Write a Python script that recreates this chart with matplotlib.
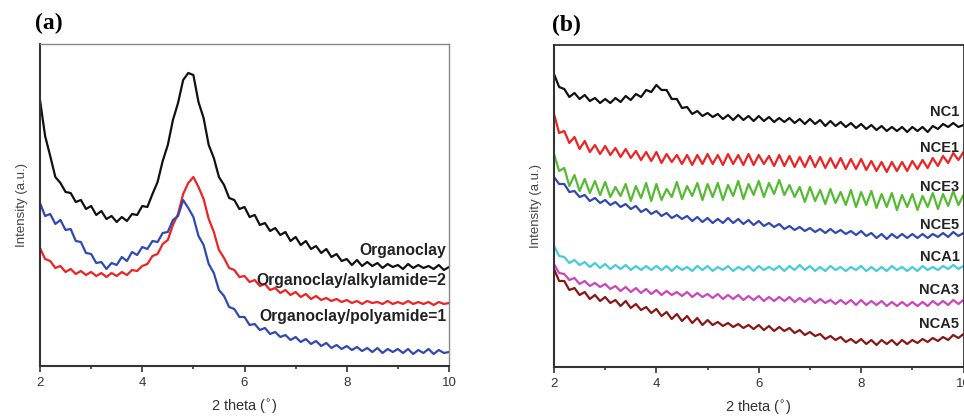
import numpy as np
import matplotlib
matplotlib.use("Agg")
import matplotlib.pyplot as plt

plt.rcParams['font.family'] = ['Liberation Sans', 'DejaVu Sans']

# 2 theta grid (deg), 0.1 step
two_theta = np.round(np.arange(2.0, 10.01, 0.1), 2)

# ---- panel (a) ----
organoclay = [266, 230, 210, 189, 183, 174, 173, 164, 166, 157,
              160, 151, 155, 147, 150, 144, 149, 145, 152, 151,
              160, 159, 172, 184, 205, 221, 246, 263, 286, 293,
              291, 264, 248, 221, 208, 189, 181, 168, 166, 157,
              159, 149, 151, 141, 143, 135, 138, 131, 134, 125,
              129, 121, 125, 117, 120, 113, 117, 109, 112, 105,
              107, 101, 106, 100, 104, 100, 103, 98, 102, 99,
              101, 97, 102, 98, 101, 98, 100, 97, 101, 96,
              99]
alkylamide = [118, 107, 105, 98, 100, 94, 97, 92, 95, 91,
              94, 90, 93, 89, 93, 90, 94, 91, 96, 95,
              100, 102, 110, 112, 122, 126, 141, 152, 172, 183,
              189, 179, 167, 147, 134, 116, 108, 98, 96, 89,
              90, 84, 86, 80, 82, 76, 78, 73, 76, 71,
              74, 69, 72, 67, 70, 66, 68, 65, 67, 64,
              66, 63, 65, 62, 65, 63, 64, 62, 65, 62,
              64, 62, 65, 62, 64, 62, 64, 61, 64, 62,
              63]
polyamide = [163, 150, 152, 142, 146, 136, 137, 125, 124, 113,
             112, 103, 104, 97, 103, 101, 109, 105, 114, 111,
             119, 117, 125, 124, 133, 134, 146, 150, 166, 158,
             149, 130, 121, 102, 93, 76, 70, 59, 57, 49,
             49, 41, 42, 36, 38, 32, 34, 29, 31, 26,
             29, 24, 27, 22, 25, 20, 23, 18, 21, 17,
             20, 16, 19, 15, 18, 14, 18, 13, 17, 14,
             17, 13, 17, 12, 16, 13, 17, 12, 16, 13,
             14]

# ---- panel (b) ----
nc1 = [293, 280, 278, 270, 274, 268, 272, 266, 269, 264,
       268, 264, 269, 265, 271, 267, 273, 270, 277, 275,
       282, 277, 277, 268, 268, 259, 260, 253, 256, 251,
       254, 250, 253, 248, 252, 247, 252, 247, 251, 246,
       251, 246, 250, 245, 249, 245, 249, 244, 248, 243,
       248, 243, 247, 241, 246, 241, 245, 240, 244, 239,
       243, 238, 242, 237, 241, 236, 240, 236, 240, 235,
       240, 236, 240, 235, 241, 238, 243, 240, 244, 240,
       242]
nce1 = [253, 234, 236, 224, 230, 218, 226, 215, 222, 213,
        221, 212, 219, 210, 218, 209, 216, 207, 215, 206,
        215, 204, 213, 205, 212, 203, 212, 202, 212, 203,
        213, 203, 212, 202, 213, 203, 212, 202, 213, 202,
        212, 203, 211, 201, 212, 201, 211, 200, 210, 200,
        211, 200, 210, 199, 209, 199, 209, 198, 208, 198,
        208, 197, 206, 196, 205, 195, 205, 196, 205, 196,
        206, 198, 207, 199, 209, 201, 211, 204, 214, 207,
        215]
nce3 = [213, 196, 199, 181, 192, 176, 188, 174, 186, 172,
        185, 170, 180, 171, 183, 166, 181, 169, 184, 166,
        183, 167, 178, 170, 185, 168, 181, 171, 184, 167,
        183, 170, 184, 167, 182, 171, 186, 168, 183, 172,
        186, 170, 184, 173, 187, 172, 182, 170, 180, 165,
        180, 166, 177, 163, 178, 164, 175, 162, 177, 160,
        175, 162, 176, 159, 173, 160, 174, 157, 172, 160,
        173, 157, 171, 160, 174, 158, 173, 161, 176, 162,
        172]
nce5 = [190, 183, 183, 175, 176, 170, 172, 166, 169, 164,
        167, 162, 165, 160, 163, 158, 161, 155, 158, 153,
        156, 151, 154, 149, 152, 148, 151, 146, 150, 145,
        149, 144, 148, 144, 149, 144, 148, 143, 147, 142,
        146, 141, 144, 140, 143, 138, 141, 137, 140, 136,
        139, 135, 138, 134, 138, 134, 137, 133, 136, 132,
        136, 131, 134, 129, 133, 128, 133, 129, 133, 129,
        133, 129, 133, 129, 133, 130, 134, 130, 135, 131,
        134]
nca1 = [121, 111, 110, 104, 107, 102, 105, 100, 104, 99,
        103, 98, 102, 98, 102, 97, 101, 97, 101, 97,
        101, 97, 101, 96, 101, 97, 100, 96, 101, 97,
        101, 96, 100, 97, 101, 96, 100, 97, 101, 96,
        101, 97, 100, 97, 101, 96, 101, 97, 102, 97,
        101, 96, 100, 96, 101, 97, 100, 96, 100, 97,
        101, 96, 100, 96, 100, 96, 101, 97, 100, 96,
        100, 96, 101, 97, 100, 97, 101, 98, 102, 98,
        101]
nca3 = [103, 94, 93, 87, 89, 83, 86, 81, 84, 80,
        83, 78, 81, 76, 80, 75, 79, 74, 78, 73,
        77, 72, 76, 72, 75, 71, 75, 70, 74, 70,
        73, 69, 73, 68, 72, 68, 72, 67, 71, 67,
        71, 66, 70, 66, 70, 66, 70, 65, 69, 65,
        69, 64, 68, 64, 67, 63, 67, 63, 67, 62,
        67, 62, 66, 62, 66, 61, 65, 61, 65, 61,
        65, 61, 65, 61, 66, 62, 66, 62, 67, 63,
        67]
nca5 = [98, 86, 86, 77, 79, 72, 75, 68, 72, 66,
        70, 64, 67, 61, 66, 59, 63, 57, 60, 54,
        58, 51, 55, 48, 53, 46, 51, 44, 49, 42,
        47, 42, 45, 41, 44, 40, 43, 39, 42, 38,
        42, 37, 41, 36, 40, 36, 39, 34, 37, 32,
        35, 31, 33, 28, 31, 27, 30, 25, 28, 24,
        28, 23, 27, 22, 27, 23, 27, 22, 27, 23,
        27, 24, 28, 25, 29, 26, 30, 27, 32, 29,
        33]

labels_a = ["Organoclay", "Organoclay/alkylamide=2", "Organoclay/polyamide=1"]
label_y_a = [116, 85, 49]
labels_b = ["NC1", "NCE1", "NCE3", "NCE5", "NCA1", "NCA3", "NCA5"]
label_y_b = [255, 219, 180, 142, 110, 77, 43]

fig = plt.figure(figsize=(9.64, 4.18), dpi=100)
ax1 = fig.add_axes([40/964, 52/418, 409/964, 322/418])
ax2 = fig.add_axes([554/964, 51/418, 409.5/964, 322/418])

def style(ax):
    ax.set_xlim(2, 10)
    ax.set_ylim(0, 322)
    ax.set_xticks([2, 4, 6, 8, 10])
    ax.set_xticks([3, 5, 7, 9], minor=True)
    ax.set_yticks([])
    ax.tick_params(axis='x', which='major', direction='out', length=4, width=1.2,
                   colors='#333333', labelsize=9.5, pad=4)
    ax.tick_params(axis='x', which='minor', direction='out', length=2.5, width=1.2,
                   colors='#333333')
    for s in ['left', 'bottom']:
        ax.spines[s].set_linewidth(1.5)
        ax.spines[s].set_color('#333333')
    ax.set_ylabel("Intensity (a.u.)", fontsize=9.5, color='#444444', labelpad=9)
    ax.set_xlabel(r"2 theta ($^{\circ}$)", fontsize=10.5, color='#333333', labelpad=6)

style(ax1)
style(ax2)
for s in ['top', 'right']:
    ax1.spines[s].set_linewidth(1.0)
    ax1.spines[s].set_color('#888888')
    ax2.spines[s].set_linewidth(1.3)
    ax2.spines[s].set_color('#333333')

lw = 1.6
ax1.plot(two_theta, organoclay, color='#111111', lw=lw)
ax1.plot(two_theta, alkylamide, color='#ee2222', lw=lw)
ax1.plot(two_theta, polyamide, color='#2f48b3', lw=lw)
for t, y in zip(labels_a, label_y_a):
    ax1.text(9.95, y, t, ha='right', va='center', fontsize=11.3,
             fontweight='bold', color='#222222')

colors_b = ['#111111', '#ee2222', '#55bb33', '#2f48b3', '#44ccdd', '#cc44bb', '#8b1515']
for ys, c in zip([nc1, nce1, nce3, nce5, nca1, nca3, nca5], colors_b):
    ax2.plot(two_theta, ys, color=c, lw=lw)
for t, y in zip(labels_b, label_y_b):
    ax2.text(9.92, y, t, ha='right', va='center', fontsize=10.5,
             fontweight='bold', color='#222222')

fig.text(35/964, 1 - 23/418, "(a)", fontsize=17, fontweight='bold',
         family='Liberation Serif', va='center', ha='left')
fig.text(552/964, 1 - 25/418, "(b)", fontsize=17, fontweight='bold',
         family='Liberation Serif', va='center', ha='left')

fig.savefig("out.png", dpi=100)
